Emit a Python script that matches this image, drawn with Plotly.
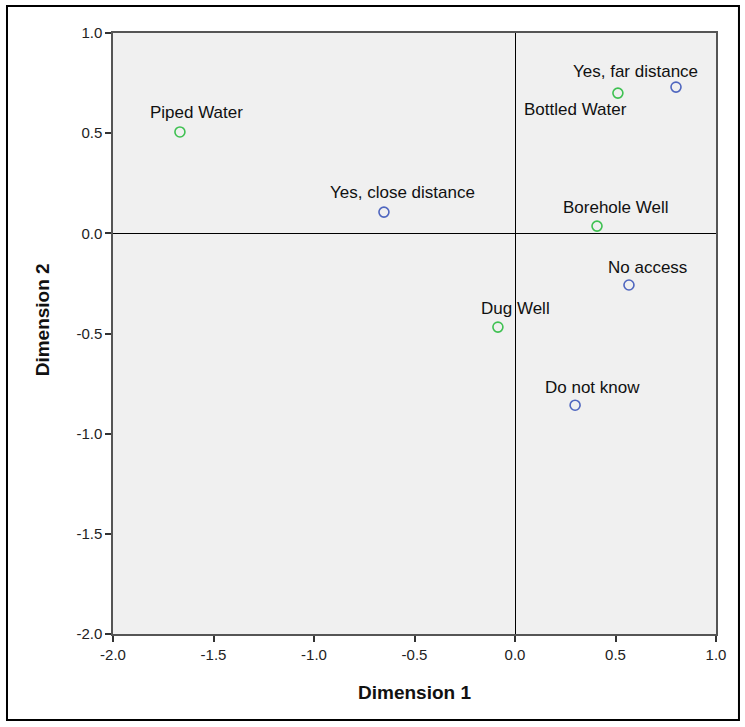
import plotly.graph_objects as go

# Category points on the two dimensions
access_labels = ["Yes, far distance", "Yes, close distance", "No access", "Do not know"]
access_dim1 = [0.801, -0.652, 0.567, 0.299]
access_dim2 = [0.730, 0.106, -0.258, -0.858]

source_labels = ["Piped Water", "Bottled Water", "Borehole Well", "Dug Well"]
source_dim1 = [-1.667, 0.512, 0.408, -0.085]
source_dim2 = [0.506, 0.700, 0.036, -0.468]

tick_vals = [-2.0, -1.5, -1.0, -0.5, 0.0, 0.5, 1.0]
tick_text = ["-2.0", "-1.5", "-1.0", "-0.5", "0.0", "0.5", "1.0"]

# Label placement (pixel offsets from each point)
access_offsets = [(-41, 16), (19, 20), (19, 18), (17, 18)]
source_offsets = [(17, 19), (-42, -16), (19, 19), (18, 19)]

BLUE = "#4F66BF"
GREEN = "#3FC152"
FONT = "Liberation Sans, Arial, sans-serif"
LABEL_FONT = dict(family=FONT, size=17, color="#111111")

fig = go.Figure()
for xs, ys, color, name in [
    (access_dim1, access_dim2, BLUE, "Access"),
    (source_dim1, source_dim2, GREEN, "Source"),
]:
    fig.add_trace(go.Scatter(
        x=xs, y=ys, mode="markers", name=name,
        marker=dict(symbol="circle-open", size=10, color=color, line=dict(width=1.6, color=color)),
        showlegend=False,
    ))

annotations = []
for labels, xs, ys, offs in [
    (access_labels, access_dim1, access_dim2, access_offsets),
    (source_labels, source_dim1, source_dim2, source_offsets),
]:
    for lab, x, y, (dx, dy) in zip(labels, xs, ys, offs):
        annotations.append(dict(
            x=x, y=y, xref="x", yref="y", text=lab, showarrow=False,
            xshift=dx, yshift=dy, font=LABEL_FONT,
        ))

# Y-axis title, placed slightly above the plot's vertical centre
annotations.append(dict(
    x=-0.1177, y=0.522, xref="paper", yref="paper", text="<b>Dimension 2</b>",
    xanchor="center", yanchor="middle",
    showarrow=False, textangle=-90, font=dict(family=FONT, size=19, color="#111111"),
))

axis_common = dict(
    range=[-2.0, 1.0], tickvals=tick_vals, ticktext=tick_text,
    ticks="outside", ticklen=6, tickwidth=1.5, tickcolor="#333333",
    showline=True, linecolor="#555555", linewidth=1.5, mirror=True,
    showgrid=False, zeroline=True, zerolinecolor="#000000", zerolinewidth=1.2,
    tickfont=dict(family=FONT, size=15, color="#222222"),
    title_font=dict(family=FONT, size=19, color="#111111"),
)

fig.update_layout(
    width=745, height=727,
    margin=dict(l=113, r=29, t=33, b=93),
    paper_bgcolor="white", plot_bgcolor="#F0F0F0",
    xaxis=dict(axis_common, title=dict(text="<b>Dimension 1</b>", standoff=24)),
    yaxis=dict(axis_common),
    annotations=annotations,
    shapes=[dict(
        type="rect", xref="paper", yref="paper",
        x0=-0.1758, x1=1.0381, y0=-0.1431, y1=1.0449,
        line=dict(color="#000000", width=2), fillcolor="rgba(0,0,0,0)", layer="below",
    )],
)

fig.write_html("out.html")
